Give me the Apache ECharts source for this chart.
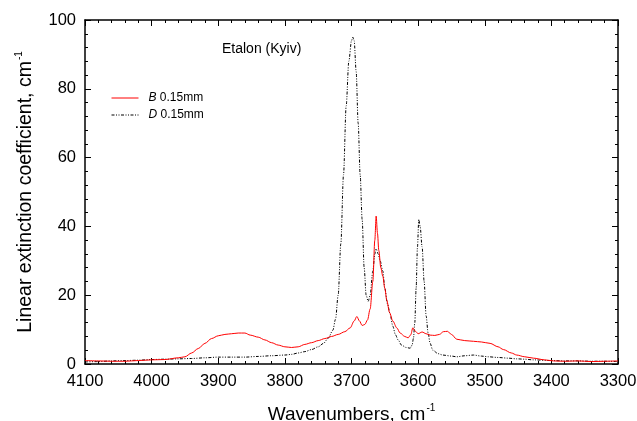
<!DOCTYPE html>
<html>
<head>
<meta charset="utf-8">
<script src="https://cdn.jsdelivr.net/npm/echarts@6/dist/echarts.min.js"></script>
<style>
  html, body { margin: 0; padding: 0; background: #fff; }
  #chart { width: 637px; height: 421px; }
</style>
</head>
<body>
<div id="chart"></div>
<script>
// red curve, sample B
var wnB = [4100, 4080, 4060, 4040, 4020, 4000, 3980, 3960, 3950, 3940, 3930, 3920, 3910, 3900, 3890, 3880, 3870, 3860, 3852, 3840,
  3830, 3820, 3810, 3800, 3790, 3780, 3770, 3760, 3750, 3740, 3730, 3720, 3710, 3702, 3696, 3692, 3688, 3684, 3680, 3676,
  3672, 3668, 3665, 3663, 3661, 3659, 3656, 3653, 3650, 3647, 3643, 3638, 3632, 3627, 3620, 3615, 3611, 3608, 3604, 3600,
  3594, 3588, 3582, 3575, 3568, 3562, 3556, 3550, 3542, 3530, 3517, 3505, 3492, 3480, 3472, 3460, 3452, 3440, 3427, 3410,
  3397, 3380, 3360, 3340, 3320, 3300]
var valB = [1.0, 0.9, 0.8, 0.8, 1.0, 1.2, 1.3, 1.8, 2.1, 3.2, 4.5, 6.0, 7.4, 8.2, 8.6, 8.8, 9.0, 9.0, 8.4, 7.8,
  7.0, 6.2, 5.5, 5.0, 4.8, 5.0, 5.7, 6.2, 6.8, 7.4, 8.0, 8.6, 9.4, 10.5, 12.5, 13.8, 12.5, 11.2, 11.5, 12.8,
  16, 24, 36, 43, 38, 33, 28, 25.5, 22, 18.5, 15, 12.5, 10.5, 9, 8, 7.6, 8.5, 10.5, 9.5, 8.8,
  9.3, 8.8, 8.4, 8.3, 8.6, 9.4, 9.5, 8.6, 7.2, 6.8, 6.6, 6.4, 6.0, 5.0, 4.2, 3.2, 2.6, 2.1, 1.7, 1.2,
  0.9, 0.8, 0.9, 0.7, 0.8, 0.9]

// black dash-dot curve, sample D
var wnD = [4100, 4080, 4060, 4040, 4020, 4000, 3980, 3960, 3940, 3920, 3900, 3880, 3860, 3840, 3820, 3800, 3790, 3780, 3770, 3760,
  3750, 3742, 3735, 3728, 3724, 3720, 3716, 3712, 3708, 3704, 3700, 3698, 3696, 3693, 3690, 3687, 3684, 3681, 3678, 3675,
  3672, 3668, 3665, 3663, 3660, 3657, 3653, 3650, 3646, 3642, 3638, 3634, 3630, 3625, 3618, 3612, 3609, 3607, 3605, 3603,
  3601, 3599, 3597, 3594, 3591, 3588, 3585, 3582, 3578, 3570, 3563, 3550, 3542, 3530, 3517, 3505, 3495, 3480, 3465, 3452,
  3440, 3427, 3400, 3380, 3360, 3340, 3320, 3300]
var valD = [0.6, 0.7, 0.9, 1.0, 1.1, 1.3, 1.4, 1.5, 1.6, 1.8, 2.0, 2.0, 2.0, 2.2, 2.4, 2.6, 2.8, 3.2, 3.6, 4.2,
  5.0, 6.0, 7.5, 9.8, 13, 20, 35, 55, 75, 88, 94, 95, 94, 85, 70, 55, 42, 28, 20, 18.2,
  20, 27, 32, 33.5, 32, 30, 27, 22, 17.5, 14.5, 11, 8.5, 7, 5.5, 4.8, 4.6, 5.5, 7.5, 12, 22,
  34, 42, 40, 34, 24, 14, 9, 6, 4, 3.0, 2.6, 2.3, 2.1, 2.4, 2.6, 2.3, 2.1, 1.9, 1.7, 1.5,
  1.4, 1.2, 1.0, 0.9, 0.9, 0.8, 0.8, 0.7]

var xTicks = [4100, 4000, 3900, 3800, 3700, 3600, 3500, 3400, 3300]
var yTicks = [0, 20, 40, 60, 80, 100]

const zip = (xs, ys) => xs.map((x, i) => [x, ys[i]])

const font = 'Arial, "Liberation Sans", sans-serif'

const chart = echarts.init(document.getElementById('chart'))

const xBase = {
  type: 'value',
  inverse: true,
  min: xTicks[xTicks.length - 1],
  max: xTicks[0],
  interval: 100,
  splitLine: { show: false },
  axisLine: { show: true, onZero: false, lineStyle: { color: '#000', width: 1.5 } },
  axisTick: { inside: true, length: 6, lineStyle: { color: '#000', width: 1 } },
  minorTick: { show: true, splitNumber: 5, length: 3, lineStyle: { color: '#000' } },
}
const yBase = {
  type: 'value',
  min: yTicks[0],
  max: yTicks[yTicks.length - 1],
  interval: 20,
  splitLine: { show: false },
  axisLine: { show: true, onZero: false, lineStyle: { color: '#000', width: 1.5 } },
  axisTick: { inside: true, length: 6, lineStyle: { color: '#000', width: 1 } },
  minorTick: { show: true, splitNumber: 5, length: 3, lineStyle: { color: '#000' } },
}

const nameStyle = (size) => ({
  fontFamily: font,
  fontSize: size,
  color: '#000',
  rich: {
    a: { fontFamily: font, fontSize: size, color: '#000' },
    sup: { fontFamily: font, fontSize: 10, color: '#000', padding: [0, 0, 13, 1] },
  },
})

chart.setOption({
  animation: false,
  backgroundColor: '#fff',
  grid: { left: 85, right: 19, top: 20, bottom: 57, outerBoundsMode: 'none', containLabel: false },
  title: {
    text: 'Etalon (Kyiv)',
    left: 217,
    top: 37,
    textStyle: { fontFamily: font, fontSize: 14, fontWeight: 'normal', color: '#000' },
  },
  legend: {
    orient: 'vertical',
    left: 106,
    top: 87,
    itemWidth: 27,
    itemHeight: 12,
    itemGap: 5,
    itemStyle: { opacity: 0, color: 'transparent', borderWidth: 0 },
    lineStyle: { width: 1 },
    textStyle: {
      fontFamily: font,
      fontSize: 12,
      color: '#000',
      padding: [0, 0, 0, 5],
      rich: { it: { fontStyle: 'italic', fontFamily: font, fontSize: 12, color: '#000' } },
    },
    formatter: (name) => {
      const p = name.split(' ')
      return '{it|' + p[0] + '} ' + p[1]
    },
    data: ['B 0.15mm', 'D 0.15mm'],
  },
  xAxis: [
    Object.assign({}, xBase, {
      position: 'bottom',
      name: '{a|Wavenumbers, cm}{sup|-1}',
      nameLocation: 'middle',
      nameGap: 39,
      nameTextStyle: nameStyle(19),
      axisLabel: { fontFamily: font, fontSize: 16.5, color: '#000', margin: 9, formatter: (v) => String(v) },
    }),
    Object.assign({}, xBase, {
      position: 'top',
      axisLabel: { show: false },
    }),
  ],
  yAxis: [
    Object.assign({}, yBase, {
      position: 'left',
      name: '{a|Linear extinction coefficient, cm}{sup|-1}',
      nameLocation: 'middle',
      nameGap: 48,
      nameTextStyle: nameStyle(19.5),
      axisLabel: { fontFamily: font, fontSize: 16.5, color: '#000', margin: 9 },
    }),
    Object.assign({}, yBase, {
      position: 'right',
      axisLabel: { show: false },
    }),
  ],
  series: [
    {
      name: 'B 0.15mm',
      type: 'line',
      data: zip(wnB, valB),
      symbol: 'none',
      smooth: 0.3,
      smoothMonotone: 'x',
      color: '#ff0000',
      lineStyle: { color: '#ff0000', width: 1 },
      z: 3,
    },
    {
      name: 'D 0.15mm',
      type: 'line',
      data: zip(wnD, valD),
      symbol: 'none',
      smooth: 0.3,
      smoothMonotone: 'x',
      color: '#000',
      lineStyle: { color: '#000', width: 1, type: [3, 1.5, 1, 1.5, 1, 1.5] },
      z: 2,
    },
  ],
})
</script>
</body>
</html>
